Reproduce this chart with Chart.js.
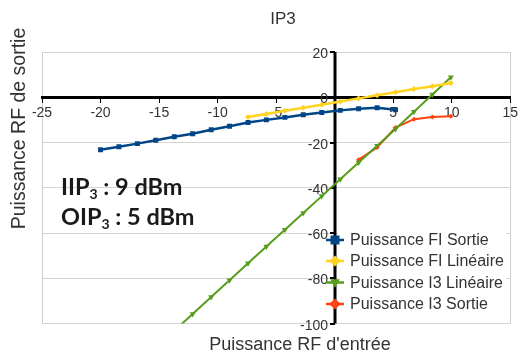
<!DOCTYPE html>
<html>
<head>
<meta charset="utf-8">
<script src="https://cdn.jsdelivr.net/npm/chart.js@4/dist/chart.umd.min.js"></script>
<style>
  html, body { margin: 0; padding: 0; background: #fff; }
  #wrap { position: relative; width: 521px; height: 354px; }
  canvas { position: absolute; left: 0; top: 0; }
  .note { position: absolute; font-family: Lato, "Open Sans", sans-serif; font-weight: bold; font-size: 23.5px; color: #1a1a1a; white-space: nowrap; line-height: 1; }
  .note sub { font-size: 14px; vertical-align: -4px; line-height: 0; }
</style>
</head>
<body>
<div id="wrap">
  <canvas id="c" width="521" height="354"></canvas>
  <div class="note" id="n1" style="left:61px; top:175px;">IIP<sub>3</sub> : 9 dBm</div>
  <div class="note" id="n2" style="left:61px; top:205px;">OIP<sub>3</sub> : 5 dBm</div>
</div>
<script>
// ---- data ----
const chartTitle = "IP3";
const xTitle = "Puissance RF d'entrée";
const yTitle = "Puissance RF de sortie";
const seriesNames = ["Puissance FI Sortie", "Puissance FI Linéaire", "Puissance I3 Linéaire", "Puissance I3 Sortie"];

const fiSortieX = [-20, -18.43, -16.85, -15.28, -13.7, -12.13, -10.55, -8.98, -7.4, -5.83, -4.25, -2.68, -1.1, 0.48, 2.05, 3.63, 5.2];
const fiSortieY = [-23.2, -21.9, -20.5, -19.0, -17.5, -16.1, -14.4, -12.8, -11.2, -10.0, -8.9, -7.7, -6.7, -5.8, -5.1, -4.6, -5.5];

const fiLinX = [-7.4, -5.83, -4.25, -2.68, -1.1, 0.48, 2.05, 3.63, 5.2, 6.78, 8.35, 9.93];
const fiLinY = [-8.7, -7.4, -6.0, -4.6, -3.3, -1.9, -0.5, 0.9, 2.2, 3.6, 4.9, 6.3];

const i3LinX = [-13.7, -12.13, -10.55, -8.98, -7.4, -5.83, -4.25, -2.68, -1.1, 0.48, 2.05, 3.63, 5.2, 6.78, 8.35, 9.93];
const i3LinY = [-103.2, -95.8, -88.3, -80.9, -73.4, -66.0, -58.6, -51.2, -43.7, -36.2, -28.8, -21.4, -14.0, -6.4, 1.2, 8.8];

const i3SortieX = [2.05, 3.63, 5.2, 6.78, 8.35, 9.93];
const i3SortieY = [-27.6, -22.2, -13.4, -9.7, -8.7, -8.4];

const xTicks = [-25, -20, -15, -10, -5, 0, 5, 10, 15];
const yTicks = [20, 0, -20, -40, -60, -80, -100];

const colors = ["#004586", "#ffd320", "#579d1c", "#ff420e"];

function pts(xs, ys) { return xs.map((x, i) => ({ x: x, y: ys[i] })); }

const styles = [
  { pointStyle: 'rect', pointRadius: 3.5, borderWidth: 2.5, rotation: 0 },
  { pointStyle: 'rectRot', pointRadius: 3, borderWidth: 2.5, rotation: 0 },
  { pointStyle: 'triangle', pointRadius: 3.5, borderWidth: 2, rotation: 180 },
  { pointStyle: 'rectRot', pointRadius: 2.5, borderWidth: 2, rotation: 0 }
];
const dataXs = [fiSortieX, fiLinX, i3LinX, i3SortieX];
const dataYs = [fiSortieY, fiLinY, i3LinY, i3SortieY];

const datasets = seriesNames.map((name, i) => ({
  label: name,
  data: pts(dataXs[i], dataYs[i]),
  borderColor: colors[i],
  backgroundColor: colors[i],
  borderWidth: styles[i].borderWidth,
  pointStyle: styles[i].pointStyle,
  pointRadius: styles[i].pointRadius,
  pointRotation: styles[i].rotation,
  pointBorderWidth: 0,
  pointHoverRadius: styles[i].pointRadius,
  showLine: true,
  tension: 0,
  fill: false
}));

const FONT = '"Liberation Sans", Arial, sans-serif';
const TEXT = '#333';

function drawMarker(ctx, style, radius, rot, x, y) {
  ctx.beginPath();
  if (style === 'rect') {
    ctx.rect(x - radius, y - radius, radius * 2, radius * 2);
  } else if (style === 'rectRot') {
    ctx.moveTo(x, y - radius * 1.4); ctx.lineTo(x + radius * 1.4, y);
    ctx.lineTo(x, y + radius * 1.4); ctx.lineTo(x - radius * 1.4, y);
    ctx.closePath();
  } else if (style === 'triangle') {
    const s = rot === 180 ? -1 : 1;
    ctx.moveTo(x, y - s * radius * 1.3);
    ctx.lineTo(x + radius * 1.2, y + s * radius * 0.8);
    ctx.lineTo(x - radius * 1.2, y + s * radius * 0.8);
    ctx.closePath();
  }
  ctx.fill();
}

// vertical axis line, tick marks and labels placed at x = 0 of the x scale
const yAxisAtZero = {
  id: 'yAxisAtZero',
  beforeDatasetsDraw(chart) {
    const ctx = chart.ctx;
    const xs = chart.scales.x, ys = chart.scales.y;
    const x0 = Math.round(xs.getPixelForValue(0));
    const a = chart.chartArea;
    ctx.save();
    ctx.strokeStyle = '#000';
    ctx.lineWidth = 3;
    ctx.beginPath();
    ctx.moveTo(x0, a.top); ctx.lineTo(x0, a.bottom);
    ctx.stroke();
    ctx.lineWidth = 2;
    ctx.font = '14px ' + FONT;
    ctx.fillStyle = TEXT;
    ctx.textAlign = 'right';
    ctx.textBaseline = 'middle';
    yTicks.forEach(v => {
      const y = Math.round(ys.getPixelForValue(v));
      ctx.beginPath();
      ctx.moveTo(x0 - 5, y); ctx.lineTo(x0, y);
      ctx.stroke();
      ctx.fillText(String(v), x0 - 7, y + 2);
    });
    ctx.restore();
  }
};

const overlay = {
  id: 'overlay',
  afterDraw(chart) {
    const ctx = chart.ctx;
    ctx.save();
    ctx.fillStyle = TEXT;
    // chart title
    ctx.font = '17px ' + FONT;
    ctx.textAlign = 'center';
    ctx.textBaseline = 'middle';
    ctx.fillText(chartTitle, 283, 19);
    // x axis title
    ctx.font = '18px ' + FONT;
    ctx.fillText(xTitle, 300, 345);
    // y axis title
    ctx.save();
    ctx.font = '19.5px ' + FONT;
    ctx.translate(20, 128.5);
    ctx.rotate(-Math.PI / 2);
    ctx.fillText(yTitle, 0, 0);
    ctx.restore();

    // legend (inside plot)
    const lx = Math.round(chart.scales.x.getPixelForValue(0));
    const rows = [240, 261, 282.5, 304];
    ctx.fillStyle = '#fff';
    ctx.fillRect(lx + 3, 229, 168, 86);
    ctx.font = '16px ' + FONT;
    ctx.textAlign = 'left';
    ctx.textBaseline = 'middle';
    seriesNames.forEach((name, i) => {
      const y = rows[i];
      ctx.strokeStyle = colors[i];
      ctx.fillStyle = colors[i];
      ctx.lineWidth = 2.5;
      ctx.beginPath();
      ctx.moveTo(lx - 9, y); ctx.lineTo(lx + 9, y);
      ctx.stroke();
      drawMarker(ctx, styles[i].pointStyle, i === 0 ? 4.5 : 4, styles[i].rotation, lx, y);
      ctx.fillStyle = TEXT;
      ctx.fillText(name, lx + 15, y + 1);
    });
    ctx.restore();
  }
};

new Chart(document.getElementById('c'), {
  type: 'scatter',
  data: { datasets: datasets },
  options: {
    responsive: false,
    animation: false,
    events: [],
    layout: { padding: { left: 42, right: 7, top: 52, bottom: 30.5 } },
    plugins: {
      legend: { display: false },
      title: { display: false },
      tooltip: { enabled: false }
    },
    scales: {
      x: {
        type: 'linear',
        position: { y: 0 },
        min: -25, max: 15,
        afterBuildTicks: (s) => { s.ticks = xTicks.map(v => ({ value: v })); },
        ticks: {
          font: { family: FONT, size: 14 },
          color: TEXT,
          padding: 3,
          maxRotation: 0,
          autoSkip: false,
          callback: (v) => (v === 0 ? '' : String(v))
        },
        grid: {
          color: (c) => (c.tick && (c.tick.value === -25 || c.tick.value === 15) ? '#cfcfcf' : 'rgba(0,0,0,0)'),
          lineWidth: 1,
          tickColor: '#000',
          tickLength: 4
        },
        border: { color: '#000', width: 3 }
      },
      y: {
        type: 'linear',
        position: 'left',
        min: -100, max: 20,
        afterBuildTicks: (s) => { s.ticks = yTicks.slice().reverse().map(v => ({ value: v })); },
        afterFit: (s) => { s.width = 0; },
        ticks: { display: false },
        grid: {
          color: '#d4d4d4',
          lineWidth: 1,
          drawTicks: false
        },
        border: { display: false }
      }
    }
  },
  plugins: [yAxisAtZero, overlay]
});
</script>
</body>
</html>
